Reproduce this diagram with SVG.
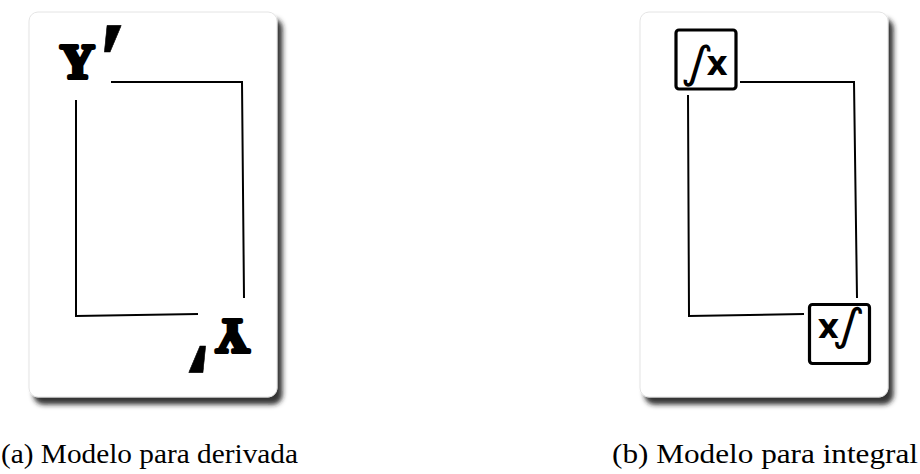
<svg xmlns="http://www.w3.org/2000/svg" width="920" height="474" viewBox="0 0 920 474">
<defs>
<filter id="shadow" x="-10%" y="-10%" width="125%" height="125%">
<feDropShadow dx="5" dy="7" stdDeviation="2.5" flood-color="#1a1a1a" flood-opacity="0.9"/>
</filter>
<style>
.card{fill:#fff;stroke:#e4e4e4;stroke-width:1;filter:url(#shadow)}
.line{fill:none;stroke:#000;stroke-width:2}
.box{fill:#fff;stroke:#000;stroke-width:3.2}
.fat{font-family:"Liberation Serif","DejaVu Serif",serif;font-weight:bold;fill:#000;stroke:#000;stroke-width:4;stroke-linejoin:round}
.pr{stroke-width:0.6}
.sym{font-family:"DejaVu Sans","Liberation Sans",sans-serif;fill:#000}
.cap{font-family:"Liberation Serif","DejaVu Serif",serif;font-size:28px;fill:#000}
</style>
</defs>
<rect width="920" height="474" fill="#fff"/>

<g id="card-a">
<rect class="card" x="29" y="12" width="248" height="385" rx="9"/>
<g id="corner-a-top">
<text class="fat" x="60" y="78" font-size="48">Y<tspan class="pr" x="97" y="99" font-size="112">′</tspan></text>
</g>
<g id="corner-a-bottom" transform="rotate(180 155 199)">
<text class="fat" x="60" y="78" font-size="48">Y<tspan class="pr" x="97" y="99" font-size="112">′</tspan></text>
</g>
</g>

<g id="card-b">
<rect class="card" x="640" y="12" width="248" height="385" rx="9"/>
<g id="box-b-top">
<rect class="box" x="676" y="30" width="60" height="59" rx="3"/>
<text class="sym" x="682" y="75"><tspan font-size="47" rotate="14">∫</tspan><tspan font-size="33" font-weight="bold" dx="0">x</tspan></text>
</g>
<g id="box-b-bottom" transform="rotate(180 839.5 334)">
<rect class="box" x="809.5" y="304.5" width="60" height="59" rx="3"/>
<text class="sym" x="815.5" y="349.5"><tspan font-size="47" rotate="14">∫</tspan><tspan font-size="33" font-weight="bold" dx="0">x</tspan></text>
</g>
</g>

<g id="connectors">
<path class="line" d="M111 82 H242 L244 298"/>
<path class="line" d="M76 100 V316 L198 314"/>
<path class="line" d="M740 82 H854 L857 298"/>
<path class="line" d="M688 95 L689 316 L804 314"/>
</g>

<g id="captions">
<text class="cap" x="1" y="463" textLength="297" lengthAdjust="spacingAndGlyphs">(a) Modelo para derivada</text>
<text class="cap" x="612" y="463" textLength="306" lengthAdjust="spacingAndGlyphs">(b) Modelo para integral</text>
</g>
</svg>
